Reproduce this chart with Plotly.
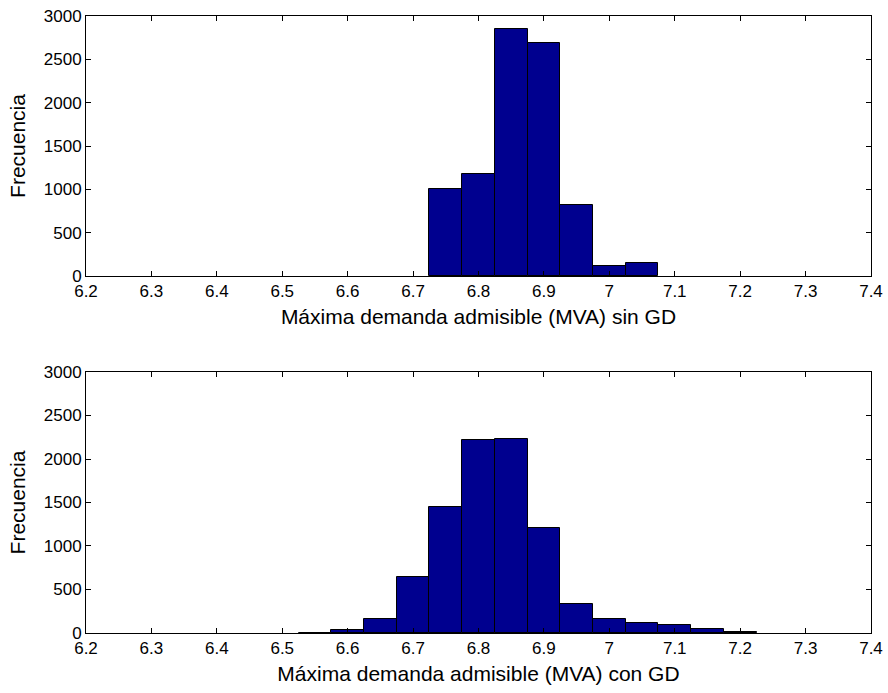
import plotly.graph_objects as go
from plotly.subplots import make_subplots

# Histogram bin centres (MVA) and counts
centros_sin_gd = [6.75, 6.80, 6.85, 6.90, 6.95, 7.00, 7.05]
frecuencia_sin_gd = [1000, 1177, 2853, 2684, 815, 115, 146]

centros_con_gd = [6.55, 6.60, 6.65, 6.70, 6.75, 6.80, 6.85, 6.90, 6.95,
                  7.00, 7.05, 7.10, 7.15, 7.20]
frecuencia_con_gd = [5, 38, 164, 647, 1445, 2222, 2230, 1203, 333,
                     157, 119, 96, 50, 12]

ancho_bin = 0.05
x_ticks = [6.2, 6.3, 6.4, 6.5, 6.6, 6.7, 6.8, 6.9, 7.0, 7.1, 7.2, 7.3, 7.4]
x_tick_text = ["6.2", "6.3", "6.4", "6.5", "6.6", "6.7", "6.8", "6.9", "7",
               "7.1", "7.2", "7.3", "7.4"]
y_ticks = [0, 500, 1000, 1500, 2000, 2500, 3000]

titulo_x_sup = "Máxima demanda admisible (MVA) sin GD"
titulo_x_inf = "Máxima demanda admisible (MVA) con GD"
titulo_y = "Frecuencia"

FONT = "Liberation Sans, Arial, sans-serif"
BAR_COLOR = "#00008F"

fig = make_subplots(rows=2, cols=1, vertical_spacing=0.1)

for fila, (cx, cy) in enumerate([(centros_sin_gd, frecuencia_sin_gd),
                                 (centros_con_gd, frecuencia_con_gd)], start=1):
    fig.add_trace(go.Bar(
        x=cx, y=cy, width=[ancho_bin] * len(cx),
        marker=dict(color=BAR_COLOR, line=dict(color="black", width=1)),
        showlegend=False, hoverinfo="x+y",
    ), row=fila, col=1)

eje_x = dict(
    range=[6.2, 7.4], tickvals=x_ticks, ticktext=x_tick_text,
    ticks="inside", ticklen=5, tickwidth=1, tickcolor="black",
    showline=True, linecolor="black", linewidth=1, mirror="ticks",
    showgrid=False, zeroline=False, automargin=False,
    tickfont=dict(family=FONT, size=17, color="black"),
)
eje_y = dict(
    range=[0, 3000], tickvals=y_ticks,
    ticks="inside", ticklen=5, tickwidth=1, tickcolor="black",
    showline=True, linecolor="black", linewidth=1, mirror="ticks",
    showgrid=False, zeroline=False, automargin=False,
    tickfont=dict(family=FONT, size=17, color="black"),
    title=dict(text=titulo_y, font=dict(family=FONT, size=21, color="black"),
               standoff=12),
)

fig.update_layout(
    width=888, height=693,
    margin=dict(l=86, r=17, t=16, b=60),
    paper_bgcolor="white", plot_bgcolor="white",
    bargap=0,
    xaxis=dict(eje_x, domain=[0, 1],
               title=dict(text=titulo_x_sup,
                          font=dict(family=FONT, size=21, color="black"),
                          standoff=8)),
    xaxis2=dict(eje_x, domain=[0, 1],
                title=dict(text=titulo_x_inf,
                           font=dict(family=FONT, size=21, color="black"),
                           standoff=8)),
    yaxis=dict(eje_y, domain=[0.5786, 1.0]),
    yaxis2=dict(eje_y, domain=[0.0, 0.423]),
)

fig.write_html("out.html")
